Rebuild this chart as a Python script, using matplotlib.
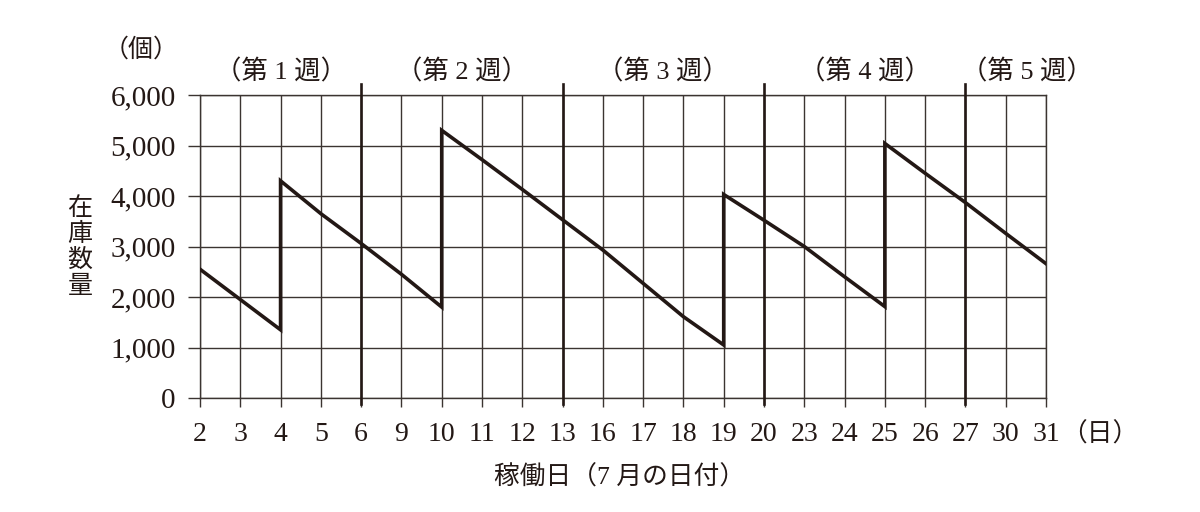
import matplotlib.pyplot as plt

# x categories (working days in July)
days = ['2', '3', '4', '5', '6', '9', '10', '11', '12', '13', '16', '17',
        '18', '19', '20', '23', '24', '25', '26', '27', '30', '31']

# inventory path (a day appears twice where stock is replenished)
path_days = ['2', '3', '4', '4', '5', '6', '9', '10', '10', '11', '12', '13',
             '16', '17', '18', '19', '19', '20', '23', '24', '25', '25', '26',
             '27', '30', '31']
stock = [2550, 1950, 1350, 4300, 3650, 3060, 2450, 1800, 5300, 4720, 4130,
         3530, 2930, 2270, 1610, 1050, 4030, 3520, 3000, 2400, 1810, 5040,
         4450, 3870, 3260, 2660]

y_ticks = [0, 1000, 2000, 3000, 4000, 5000, 6000]
week_bounds = ['6', '13', '20', '27']
week_labels = ['（第 1 週）', '（第 2 週）', '（第 3 週）', '（第 4 週）', '（第 5 週）']

ink = '#231815'
grid_c = '#3b3431'
num_font = ['Liberation Serif', 'Noto Sans CJK JP']
jp_font = ['Noto Sans CJK JP', 'DejaVu Sans']

fig = plt.figure(figsize=(12, 5.12), dpi=100)
ax = fig.add_axes([200 / 1200, 1 - 398 / 512, 846 / 1200, 303 / 512])

xs = list(range(len(days)))
xpos = [days.index(d) for d in path_days]

ax.set_xlim(0, len(days) - 1)
ax.set_ylim(0, 6000)
ax.set_xticks(xs)
ax.set_xticklabels(days, family=num_font, fontsize=20, color=ink)
ax.set_yticks(y_ticks)
ax.set_yticklabels([f'{v:,}' for v in y_ticks], family=num_font,
                   fontsize=21, color=ink)
ax.tick_params(axis='x', direction='out', length=6.5, width=1, color=grid_c, pad=11)
ax.tick_params(axis='y', direction='out', length=8.5, width=1, color=grid_c, pad=9)
ax.grid(True, color=grid_c, linewidth=1.0)
for s in ax.spines.values():
    s.set_color(grid_c)
    s.set_linewidth(1.0)

# week separators, sticking out above the plot
for d in week_bounds:
    ax.axvline(days.index(d), ymin=-0.02, ymax=1.036, color=ink,
               linewidth=1.9, clip_on=False, zorder=3)

ax.plot(xpos, stock, color=ink, linewidth=2.6, solid_joinstyle='miter',
        zorder=4)

# week labels above the plot
starts = [0] + [days.index(d) for d in week_bounds]
ends = [days.index(d) for d in week_bounds] + [len(days) - 1]
for i, lab in enumerate(week_labels):
    if i < len(week_labels) - 1:
        ax.text((starts[i] + ends[i]) / 2, 6000 * 1.075, lab, ha='center',
                va='center', family=num_font, fontsize=19, color=ink,
                clip_on=False)
    else:
        ax.text(starts[i] - 0.1, 6000 * 1.075, lab, ha='left', va='center',
                family=num_font, fontsize=19, color=ink, clip_on=False)

fig.text(141 / 1200, 1 - 50 / 512, '（個）', ha='center', va='center',
         family=jp_font, fontsize=18, color=ink)
fig.text(80 / 1200, 1 - 247 / 512, '在\n庫\n数\n量', ha='center', va='center',
         family=jp_font, fontsize=18, color=ink, linespacing=1.0)
fig.text(620 / 1200, 1 - 477 / 512, '稼働日（7 月の日付）', ha='center',
         va='center', family=num_font, fontsize=18.5, color=ink)
fig.text(1100 / 1200, 1 - 435 / 512, '（日）', ha='center', va='center',
         family=jp_font, fontsize=18.5, color=ink)

fig.savefig('out.png', dpi=100, facecolor='white')
